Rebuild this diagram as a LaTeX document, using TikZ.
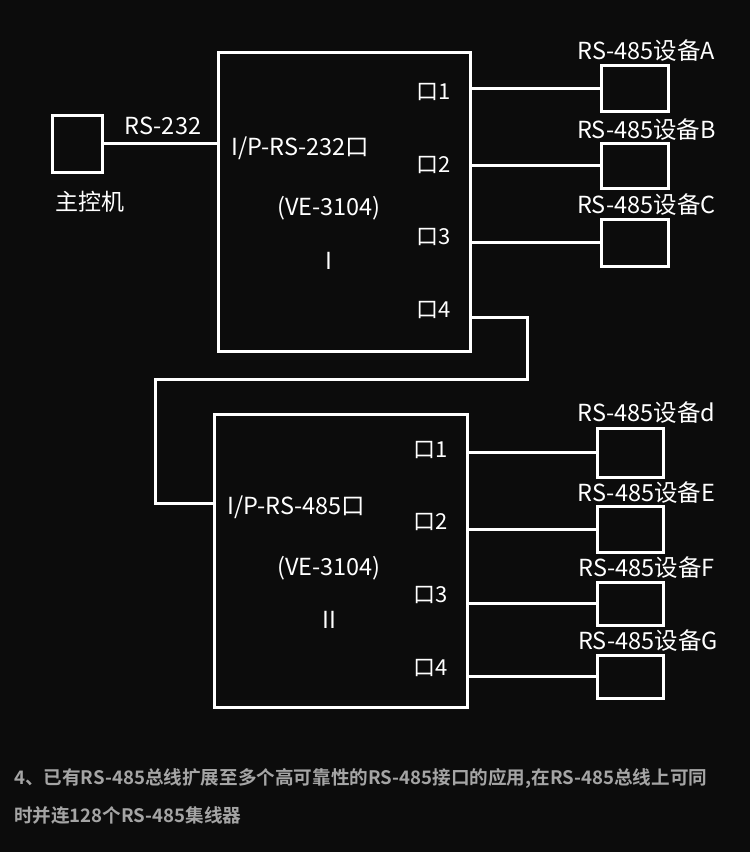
\documentclass[tikz,border=0pt]{standalone}
\usepackage{fontspec}
\setmainfont{Noto Sans CJK SC}
\newfontfamily\boldcjk{Noto Sans CJK SC Bold}
\definecolor{bg}{RGB}{12,12,12}
\definecolor{note}{RGB}{165,165,165}
\begin{document}
\begin{tikzpicture}[x=1pt,y=-1pt,
  wire/.style={draw=white,line width=3pt},
  box/.style={draw=white,line width=3pt,inner sep=0pt,minimum width=#1},
  lbl/.style={text=white,font=\fontsize{23.5}{26}\selectfont,inner sep=0pt},
  portlbl/.style={text=white,font=\fontsize{22}{24}\selectfont,inner sep=0pt,anchor=east},
  notetext/.style={text=note,font=\boldcjk\fontsize{18.6}{21}\selectfont,inner sep=0pt,anchor=west}]
\fill[bg] (0,0) rectangle (750,852);
\useasboundingbox (0,0) rectangle (750,852);
% main computer
\node[box=50pt,minimum height=57pt] (pc) at (77,143.5) {};
\node[lbl,font=\fontsize{23}{25}\selectfont] (pclbl) at (90,202) {主控机};
% unit I
\node[box=252pt,minimum height=299pt] (u1) at (344,201.5) {};
\node[lbl,anchor=west] (u1a) at (231,148) {I/P-RS-232口};
\node[lbl] (u1b) at (329,208) {(VE-3104)};
\node[lbl] (u1c) at (329,261) {I};
\node[portlbl] (p11) at (451,92) {口1};
\node[portlbl] (p12) at (451,165) {口2};
\node[portlbl] (p13) at (451,237) {口3};
\node[portlbl] (p14) at (451,310) {口4};
% unit II
\node[box=253pt,minimum height=293pt] (u2) at (340.5,560.5) {};
\node[lbl,anchor=west] (u2a) at (227,507) {I/P-RS-485口};
\node[lbl] (u2b) at (329,568) {(VE-3104)};
\node[lbl] (u2c) at (329,620) {II};
\node[portlbl] (p21) at (448,450) {口1};
\node[portlbl] (p22) at (448,522) {口2};
\node[portlbl] (p23) at (448,595) {口3};
\node[portlbl] (p24) at (448,668) {口4};
% devices upper
\node[box=67pt,minimum height=46pt] (dA) at (634.5,88) {};
\node[box=67pt,minimum height=45pt] (dB) at (634.5,165.5) {};
\node[box=67pt,minimum height=47pt] (dC) at (634.5,242.5) {};
\node[lbl] (lA) at (646.5,51) {RS-485设备A};
\node[lbl] (lB) at (646.5,130) {RS-485设备B};
\node[lbl] (lC) at (646.5,205) {RS-485设备C};
% devices lower
\node[box=66pt,minimum height=49pt] (dd) at (630,452.5) {};
\node[box=66pt,minimum height=46pt] (dE) at (630,529) {};
\node[box=66pt,minimum height=43pt] (dF) at (630,603.5) {};
\node[box=66pt,minimum height=43pt] (dG) at (630,676.5) {};
\node[lbl] (ld) at (646.5,413) {RS-485设备d};
\node[lbl] (lE) at (646.5,493) {RS-485设备E};
\node[lbl] (lF) at (646.5,568) {RS-485设备F};
\node[lbl] (lG) at (648,641) {RS-485设备G};
% RS-232 link
\draw[wire] (pc.east) -- (u1.west |- pc.east);
\node[lbl] (rs232) at (163,126) {RS-232};
% port links
\foreach \d in {dA,dB,dC}{\draw[wire] (u1.east |- \d.west) -- (\d.west);}
\foreach \d in {dd,dE,dF,dG}{\draw[wire] (u2.east |- \d.west) -- (\d.west);}
% cascade link
\coordinate (c1) at (527,317);
\coordinate (c2) at (527,379);
\coordinate (c3) at (155,379);
\coordinate (c4) at (155,503);
\draw[wire,line join=miter] (u1.east |- c1) -- (c1) -- (c2) -- (c3) -- (c4) -- (u2.west |- c4);
% note
\node[notetext] (n1) at (14,778) {4、已有RS-485总线扩展至多个高可靠性的RS-485接口的应用,在RS-485总线上可同};
\node[notetext] (n2) at (14,815) {时并连128个RS-485集线器};
\end{tikzpicture}
\end{document}
